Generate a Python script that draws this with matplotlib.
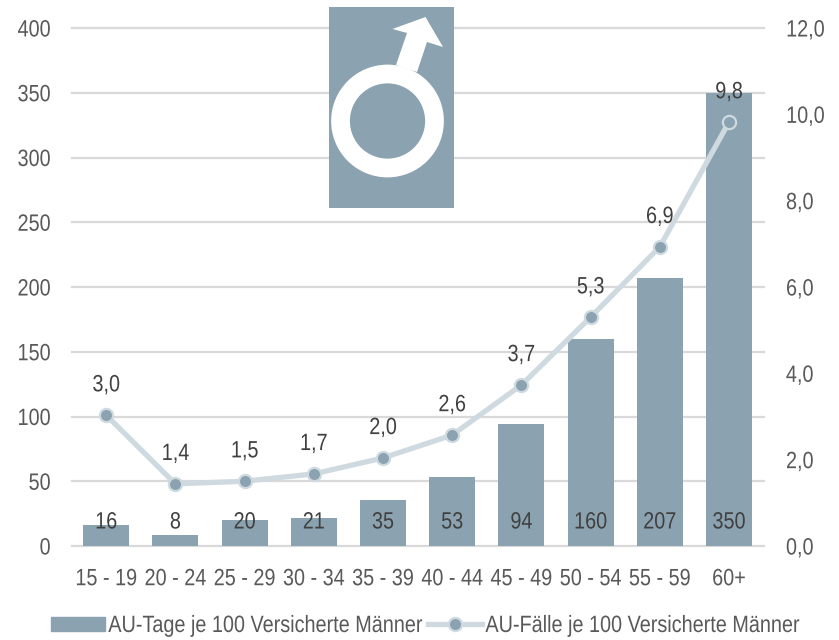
import matplotlib
matplotlib.use('Agg')
import matplotlib.pyplot as plt
from matplotlib.patches import Rectangle, Circle, Polygon
from matplotlib.lines import Line2D
from matplotlib.patheffects import AbstractPathEffect
from matplotlib.transforms import Affine2D, blended_transform_factory

plt.rcParams['font.family'] = ['Liberation Sans']

# Daten
altersgruppen = ['15 - 19', '20 - 24', '25 - 29', '30 - 34', '35 - 39',
                 '40 - 44', '45 - 49', '50 - 54', '55 - 59', '60+']
au_tage = [16.4, 8.4, 20.4, 21.4, 35.4, 53, 94, 160, 207, 350]
au_faelle = [3.03, 1.44, 1.5, 1.67, 2.04, 2.57, 3.73, 5.3, 6.93, 9.82]
ticks_links = [0, 50, 100, 150, 200, 250, 300, 350, 400]
ticks_rechts = [0, 2, 4, 6, 8, 10, 12]

W, H = 839, 640
BLAU = '#8ba2b0'
HELL = '#cfdae0'
GRID = '#d9d9d9'
TEXT = '#595959'
DUNKEL = '#404040'
FS = 17
FAKTOR = 0.84


class Schmal(AbstractPathEffect):
    # Schrift horizontal stauchen, die Vorlage hat eine schmale Arial
    def __init__(self, anker='center'):
        super().__init__()
        self.anker = anker

    def draw_path(self, renderer, gc, tpath, affine, rgbFace=None):
        ext = tpath.get_extents(affine)
        x0 = {'left': ext.x0, 'right': ext.x1, 'center': (ext.x0 + ext.x1) / 2}[self.anker]
        a = affine + Affine2D().translate(-x0, 0).scale(FAKTOR, 1).translate(x0, 0)
        renderer.draw_path(gc, tpath, a, rgbFace)


fig = plt.figure(figsize=(W / 100, H / 100), dpi=100)
ax = fig.add_axes([71.6 / W, 1 - 546 / H, 692 / W, 518 / H])
ax2 = ax.twinx()

x = list(range(len(altersgruppen)))
ax.bar(x, au_tage, width=0.667, color=BLAU, zorder=3)
ax.set_xlim(-0.5, len(x) - 0.5)
ax.set_ylim(0, 400)
ax.set_yticks(ticks_links)
ax.yaxis.grid(True, color=GRID, lw=1.6, zorder=0, clip_on=False)
ax.set_axisbelow(True)
ax.set_xticks(x, altersgruppen)
ax.tick_params(axis='x', length=0, pad=16, labelsize=FS, labelcolor=TEXT)
ax.tick_params(axis='y', length=0, pad=15, labelsize=FS, labelcolor=TEXT)
for s in ax.spines.values():
    s.set_visible(False)

ax2.set_ylim(0, 12)
ax2.set_yticks(ticks_rechts, [f'{t:.1f}'.replace('.', ',') for t in ticks_rechts])
ax2.tick_params(axis='y', length=0, pad=16, labelsize=FS, labelcolor=TEXT)
for s in ax2.spines.values():
    s.set_visible(False)
ax2.plot(x, au_faelle, color=HELL, lw=3.8, marker='o', ms=9.5, mfc=BLAU,
         mec=HELL, mew=1.6, solid_capstyle='round', zorder=5)

for t in ax.get_xticklabels():
    t.set_path_effects([Schmal('center')])
for t in ax.get_yticklabels():
    t.set_path_effects([Schmal('right')])
for t in ax2.get_yticklabels():
    t.set_path_effects([Schmal('left')])

# Beschriftungen
trans = blended_transform_factory(ax.transData, ax.transAxes)
for i, v in zip(x, au_tage):
    ax2.text(i, 23.5 / 518, f'{v:.0f}', transform=trans, ha='center', va='center',
             fontsize=FS, color=DUNKEL, zorder=6, path_effects=[Schmal('center')])
for i, v in zip(x, au_faelle):
    ax2.annotate(f'{v:.1f}'.replace('.', ','), (i, v), xytext=(0, 21.5),
                 textcoords='offset points', ha='center', va='center',
                 fontsize=FS, color=DUNKEL, zorder=6, path_effects=[Schmal('center')])

# Legende, Text um die Mitte gestaucht, daher die negativen Abstaende
handles = [Rectangle((0, 0), 1, 1, color=BLAU),
           Line2D([], [], color=HELL, lw=3.8, marker='o', ms=9.5, mfc=BLAU,
                  mec=HELL, mew=1.6)]
leg = fig.legend(handles, ['AU-Tage je 100 Versicherte Männer',
                           'AU-Fälle je 100 Versicherte Männer'],
                 loc='center left', bbox_to_anchor=(51 / W, 1 - 626 / H), ncol=2,
                 frameon=False, fontsize=FS, labelcolor=TEXT, borderpad=0,
                 borderaxespad=0, handlelength=2.3, handleheight=0.55,
                 handletextpad=-1.14, columnspacing=-1.06)
for t in leg.get_texts():
    t.set_path_effects([Schmal('center')])

# Symbol, in Pixeln des Bildes
sym = fig.add_axes([0, 0, 1, 1], zorder=10)
sym.set_xlim(0, W)
sym.set_ylim(H, 0)
sym.axis('off')
sym.patch.set_alpha(0)
sym.add_patch(Rectangle((329, 7), 125, 201, color=BLAU, lw=0))
sym.add_patch(Polygon([(396, 65), (407, 33), (392.5, 29), (425.5, 17), (443, 47),
                       (427, 42), (417, 72)], color='white', lw=0))
sym.add_patch(Circle((387.5, 121), 47, fill=False, ec='white', lw=13.5))

fig.savefig('out.png', dpi=100)
